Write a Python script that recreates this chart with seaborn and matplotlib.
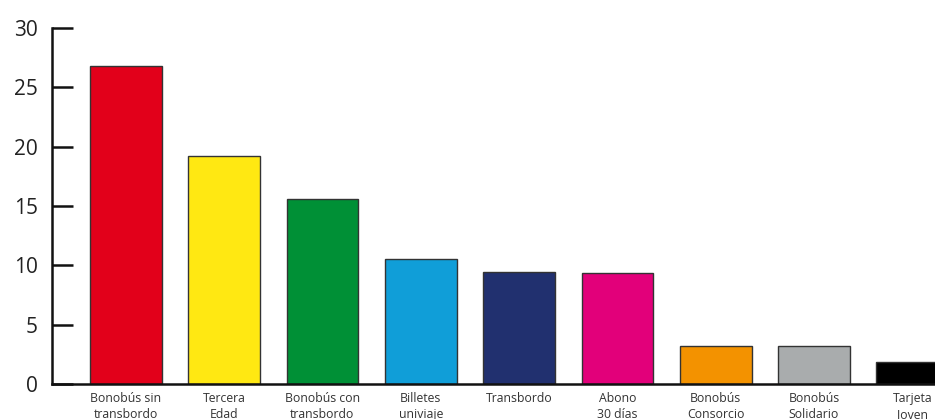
import matplotlib
matplotlib.use("Agg")
import matplotlib.pyplot as plt
import seaborn as sns
import pandas as pd

categories = ["Bonobús sin\ntransbordo", "Tercera\nEdad", "Bonobús con\ntransbordo",
              "Billetes\nuniviaje", "Transbordo", "Abono\n30 días",
              "Bonobús\nConsorcio", "Bonobús\nSolidario", "Tarjeta\nJoven"]
values = [26.8, 19.2, 15.6, 10.5, 9.4, 9.35, 3.2, 3.2, 1.85]
colors = ["#E2001A", "#FFE812", "#009036", "#109ED8", "#21306F",
          "#E2007A", "#F39200", "#A9ACAD", "#000000"]
yticks = [0, 5, 10, 15, 20, 25, 30]

sns.set_theme(style="white")
plt.rcParams['font.family'] = ['Open Sans', 'DejaVu Sans']

df = pd.DataFrame({"cat": categories, "val": values})
fig = plt.figure(figsize=(9.35, 4.19), dpi=100)
ax = fig.add_axes([52/935, 35/419, 1 - 52/935, (384-28)/419])
sns.barplot(data=df, x="cat", y="val", hue="cat", palette=colors, legend=False,
            width=0.73, edgecolor="#333333", linewidth=1.0, ax=ax, saturation=1)

ax.set_ylim(0, 30)
ax.set_xlim(-0.75, 8.23)
ax.set_yticks(yticks)
ax.set_yticklabels([str(t) for t in yticks], fontsize=15, color="#222222")
ax.tick_params(axis="y", left=True, direction="in", length=15, width=1.8,
               color="#111111", pad=10)
ax.tick_params(axis="x", bottom=False, length=0, pad=6)
for lbl in ax.get_xticklabels():
    lbl.set_fontsize(8.8)
    lbl.set_color("#333333")
    lbl.set_linespacing(1.25)
ax.set_xlabel("")
ax.set_ylabel("")
for s in ["top", "right"]:
    ax.spines[s].set_visible(False)
for s in ["left", "bottom"]:
    ax.spines[s].set_linewidth(1.8)
    ax.spines[s].set_color("#111111")
fig.savefig("out.png", dpi=100)
